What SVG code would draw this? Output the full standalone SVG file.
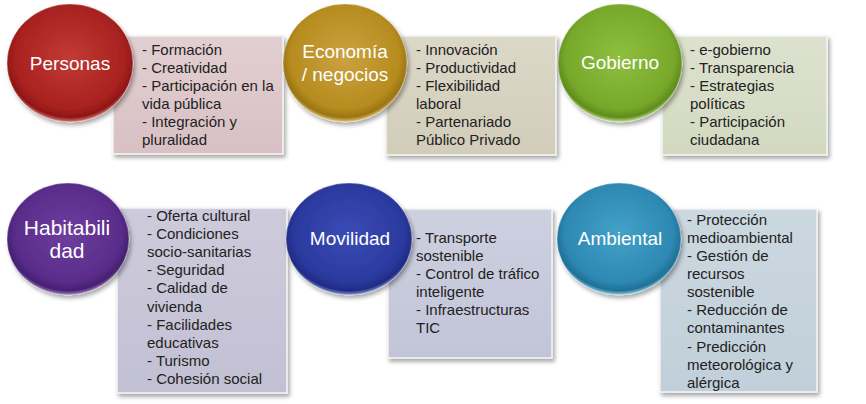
<svg xmlns="http://www.w3.org/2000/svg" width="866" height="404" viewBox="0 0 866 404">
<defs>
<filter id="sh" x="-20%" y="-20%" width="140%" height="140%">
<feDropShadow dx="2" dy="3" stdDeviation="2" flood-color="#000" flood-opacity="0.35"/>
</filter>
<radialGradient id="gRed" cx="50%" cy="45%" r="55%">
<stop offset="0" stop-color="#c23a35"/><stop offset="0.8" stop-color="#a8211f"/><stop offset="0.93" stop-color="#8f1616"/><stop offset="1" stop-color="#d77b74"/>
</radialGradient>
<radialGradient id="gGold" cx="50%" cy="45%" r="55%">
<stop offset="0" stop-color="#cba240"/><stop offset="0.8" stop-color="#b68c1f"/><stop offset="0.93" stop-color="#9a7412"/><stop offset="1" stop-color="#e2c77c"/>
</radialGradient>
<radialGradient id="gGreen" cx="50%" cy="45%" r="55%">
<stop offset="0" stop-color="#8fbf3e"/><stop offset="0.8" stop-color="#77a82a"/><stop offset="0.93" stop-color="#5f8d1c"/><stop offset="1" stop-color="#c2dd8e"/>
</radialGradient>
<radialGradient id="gPurple" cx="50%" cy="45%" r="55%">
<stop offset="0" stop-color="#6e3e9e"/><stop offset="0.8" stop-color="#592c8a"/><stop offset="0.93" stop-color="#452070"/><stop offset="1" stop-color="#a98bc8"/>
</radialGradient>
<radialGradient id="gBlue" cx="50%" cy="45%" r="55%">
<stop offset="0" stop-color="#3a4cb6"/><stop offset="0.8" stop-color="#2b399e"/><stop offset="0.93" stop-color="#1f2b82"/><stop offset="1" stop-color="#8d97d8"/>
</radialGradient>
<radialGradient id="gTeal" cx="50%" cy="45%" r="55%">
<stop offset="0" stop-color="#44a2c8"/><stop offset="0.8" stop-color="#2d88b2"/><stop offset="0.93" stop-color="#1f7096"/><stop offset="1" stop-color="#98d0e6"/>
</radialGradient>
<linearGradient id="bRed" x1="0" y1="0" x2="0" y2="1"><stop offset="0" stop-color="#e2cfd2"/><stop offset="1" stop-color="#d8c0c4"/></linearGradient>
<linearGradient id="bGold" x1="0" y1="0" x2="0" y2="1"><stop offset="0" stop-color="#dcd8c8"/><stop offset="1" stop-color="#d2cdb9"/></linearGradient>
<linearGradient id="bGreen" x1="0" y1="0" x2="0" y2="1"><stop offset="0" stop-color="#dde2cf"/><stop offset="1" stop-color="#d2d9c0"/></linearGradient>
<linearGradient id="bPurple" x1="0" y1="0" x2="0" y2="1"><stop offset="0" stop-color="#cdcbdb"/><stop offset="1" stop-color="#c2c0d3"/></linearGradient>
<linearGradient id="bBlue" x1="0" y1="0" x2="0" y2="1"><stop offset="0" stop-color="#cdd0df"/><stop offset="1" stop-color="#c2c5d8"/></linearGradient>
<linearGradient id="bTeal" x1="0" y1="0" x2="0" y2="1"><stop offset="0" stop-color="#ccd8e0"/><stop offset="1" stop-color="#c0cfd9"/></linearGradient>
<style>
.box{stroke:#f4f4f4;stroke-width:1.5;filter:url(#sh);}
.circ{stroke:#ffffff;stroke-opacity:0.35;stroke-width:1;filter:url(#sh);}
.lbl{font-family:"Liberation Sans",Arial,sans-serif;font-size:19px;fill:#ffffff;text-anchor:middle;}
.txt{font-family:"Liberation Sans",Arial,sans-serif;font-size:15px;fill:#222222;}
</style>
</defs>
<rect width="866" height="404" fill="#ffffff"/>

<g id="personas">
<rect class="box" x="113" y="36" width="170" height="118" fill="url(#bRed)"/>
<ellipse class="circ" cx="70" cy="63" rx="63" ry="59" fill="url(#gRed)"/>
<text class="lbl" x="70" y="70">Personas</text>
<text class="txt"><tspan x="142" y="55">- Formación</tspan><tspan x="142" y="73">- Creatividad</tspan><tspan x="142" y="91">- Participación en la</tspan><tspan x="142" y="109">vida pública</tspan><tspan x="142" y="127">- Integración y</tspan><tspan x="142" y="145">pluralidad</tspan></text>
</g>

<g id="economia">
<rect class="box" x="386" y="36" width="170" height="119" fill="url(#bGold)"/>
<ellipse class="circ" cx="345" cy="63" rx="62" ry="59" fill="url(#gGold)"/>
<text class="lbl"><tspan x="345" y="58">Economía</tspan><tspan x="345" y="81">/ negocios</tspan></text>
<text class="txt"><tspan x="416" y="55">- Innovación</tspan><tspan x="416" y="73">- Productividad</tspan><tspan x="416" y="91">- Flexibilidad</tspan><tspan x="416" y="109">laboral</tspan><tspan x="416" y="127">- Partenariado</tspan><tspan x="416" y="145">Público Privado</tspan></text>
</g>

<g id="gobierno">
<rect class="box" x="662" y="36" width="165" height="119" fill="url(#bGreen)"/>
<ellipse class="circ" cx="620" cy="63" rx="62" ry="59" fill="url(#gGreen)"/>
<text class="lbl" x="620" y="69">Gobierno</text>
<text class="txt"><tspan x="690" y="55">- e-gobierno</tspan><tspan x="690" y="73">- Transparencia</tspan><tspan x="690" y="91">- Estrategias</tspan><tspan x="690" y="109">políticas</tspan><tspan x="690" y="127">- Participación</tspan><tspan x="690" y="145">ciudadana</tspan></text>
</g>

<g id="habitabilidad">
<rect class="box" x="117" y="208" width="170" height="185" fill="url(#bPurple)"/>
<ellipse class="circ" cx="68" cy="239" rx="61" ry="56" fill="url(#gPurple)"/>
<text class="lbl" style="font-size:21px"><tspan x="67" y="235">Habitabili</tspan><tspan x="67" y="258">dad</tspan></text>
<text class="txt"><tspan x="147" y="221">- Oferta cultural</tspan><tspan x="147" y="239">- Condiciones</tspan><tspan x="147" y="257">socio-sanitarias</tspan><tspan x="147" y="275">- Seguridad</tspan><tspan x="147" y="293">- Calidad de</tspan><tspan x="147" y="312">vivienda</tspan><tspan x="147" y="330">- Facilidades</tspan><tspan x="147" y="348">educativas</tspan><tspan x="147" y="366">- Turismo</tspan><tspan x="147" y="384">- Cohesión social</tspan></text>
</g>

<g id="movilidad">
<rect class="box" x="388" y="209" width="164" height="149" fill="url(#bBlue)"/>
<ellipse class="circ" cx="349" cy="239" rx="63" ry="56" fill="url(#gBlue)"/>
<text class="lbl" x="350" y="245">Movilidad</text>
<text class="txt"><tspan x="416" y="243">- Transporte</tspan><tspan x="416" y="261">sostenible</tspan><tspan x="416" y="279">- Control de tráfico</tspan><tspan x="416" y="297">inteligente</tspan><tspan x="416" y="315">- Infraestructuras</tspan><tspan x="416" y="333">TIC</tspan></text>
</g>

<g id="ambiental">
<rect class="box" x="660" y="209" width="157" height="183" fill="url(#bTeal)"/>
<ellipse class="circ" cx="619" cy="239" rx="62" ry="56" fill="url(#gTeal)"/>
<text class="lbl" x="620" y="245">Ambiental</text>
<text class="txt"><tspan x="687" y="225">- Protección</tspan><tspan x="687" y="243">medioambiental</tspan><tspan x="687" y="261">- Gestión de</tspan><tspan x="687" y="279">recursos</tspan><tspan x="687" y="297">sostenible</tspan><tspan x="687" y="315">- Reducción de</tspan><tspan x="687" y="333">contaminantes</tspan><tspan x="687" y="352">- Predicción</tspan><tspan x="687" y="370">meteorológica y</tspan><tspan x="687" y="388">alérgica</tspan></text>
</g>
</svg>
